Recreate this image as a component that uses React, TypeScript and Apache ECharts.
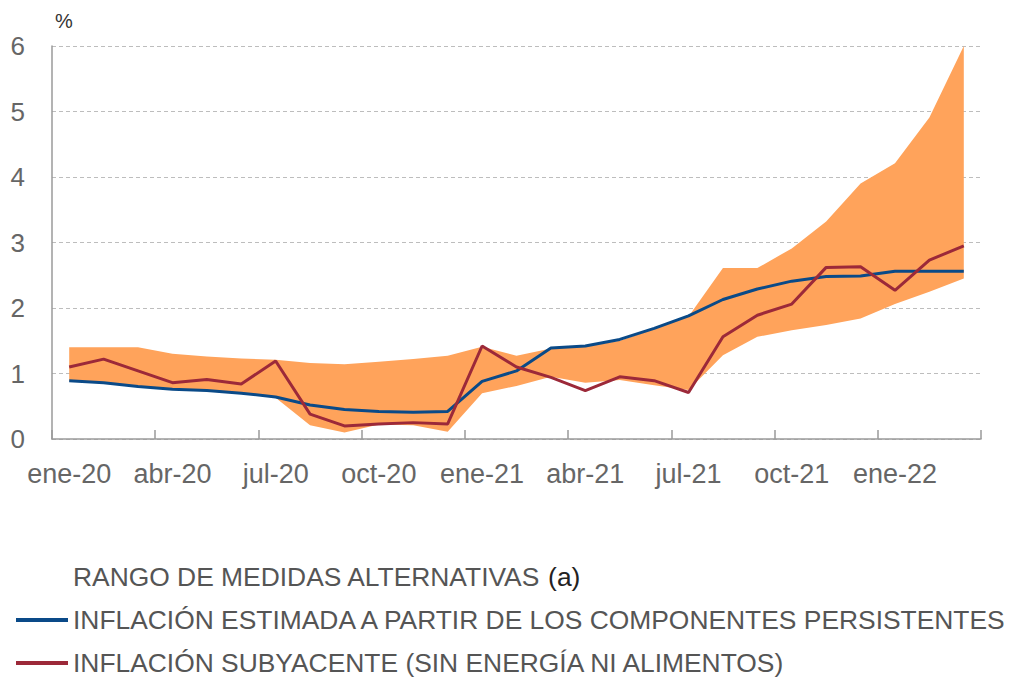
import React, { useEffect, useRef } from "react";
import * as echarts from "echarts";

const categories = [
  "ene-20", "feb-20", "mar-20", "abr-20", "may-20", "jun-20", "jul-20", "ago-20", "sep-20",
  "oct-20", "nov-20", "dic-20", "ene-21", "feb-21", "mar-21", "abr-21", "may-21", "jun-21",
  "jul-21", "ago-21", "sep-21", "oct-21", "nov-21", "dic-21", "ene-22", "feb-22", "mar-22",
];

const persistentes = [
  0.89, 0.86, 0.8, 0.76, 0.74, 0.7, 0.64, 0.52, 0.45, 0.42, 0.41, 0.42, 0.88, 1.04,
  1.39, 1.42, 1.52, 1.69, 1.88, 2.13, 2.29, 2.41, 2.48, 2.49, 2.56, 2.56, 2.56,
];

const subyacente = [
  1.1, 1.22, 1.04, 0.86, 0.91, 0.84, 1.19, 0.38, 0.2, 0.23, 0.25, 0.23, 1.42, 1.1,
  0.94, 0.74, 0.95, 0.89, 0.71, 1.56, 1.89, 2.06, 2.62, 2.63, 2.27, 2.73, 2.95,
];

const rangoMax = [
  1.4, 1.4, 1.4, 1.3, 1.26, 1.23, 1.21, 1.16, 1.14, 1.18, 1.22, 1.27, 1.41, 1.27,
  1.38, 1.41, 1.5, 1.68, 1.87, 2.61, 2.61, 2.91, 3.32, 3.9, 4.21, 4.91, 6.0,
];

const rangoMin = [
  0.88, 0.85, 0.79, 0.75, 0.73, 0.69, 0.63, 0.21, 0.1, 0.22, 0.21, 0.11, 0.7, 0.81,
  0.95, 0.86, 0.9, 0.82, 0.75, 1.28, 1.56, 1.66, 1.74, 1.84, 2.06, 2.25, 2.45,
];

const yTicks = [0, 1, 2, 3, 4, 5, 6];

const NAME_RANGO = "RANGO DE MEDIDAS ALTERNATIVAS (a)";
const NAME_PERS = "INFLACIÓN ESTIMADA A PARTIR DE LOS COMPONENTES PERSISTENTES";
const NAME_SUB = "INFLACIÓN SUBYACENTE (SIN ENERGÍA NI ALIMENTOS)";

const ORANGE = "#FFA35B";
const BLUE = "#0A4A88";
const RED = "#9C2939";
const FONT = "'Liberation Sans', Arial, sans-serif";

const legendText = { fontSize: 26.4, color: "#555555", fontFamily: FONT, lineHeight: 28 };

function makeLegend(name: string, top: number, color: string) {
  return {
    orient: "horizontal",
    left: 16,
    top,
    padding: 0,
    itemWidth: 52,
    itemHeight: 4,
    selectedMode: false,
    textStyle: {
      ...legendText,
      rich: { a: { fontSize: 26.4, color: "#222222", fontFamily: FONT } },
    },
    formatter: (n: string) =>
      n === NAME_RANGO ? "RANGO DE MEDIDAS ALTERNATIVAS {a|(a)}" : n,
    data: [{ name, icon: "rect", itemStyle: { color } }],
  };
}

export default function App() {
  const ref = useRef<HTMLDivElement>(null);

  useEffect(() => {
    document.body.style.margin = "0";
    if (!ref.current) return;
    const chart = echarts.init(ref.current, undefined, { renderer: "svg" });
    const diff = rangoMax.map((v, i) => +(v - rangoMin[i]).toFixed(3));
    chart.setOption({
      animation: false,
      backgroundColor: "#ffffff",
      textStyle: { fontFamily: FONT },
      grid: { left: 52, right: 28, top: 46, bottom: 238, containLabel: false },
      graphic: [
        {
          type: "text",
          left: 55,
          top: 11,
          style: { text: "%", fontSize: 20, fill: "#333333", fontFamily: FONT },
        },
      ],
      legend: [
        makeLegend(NAME_RANGO, 563, "rgba(0,0,0,0)"),
        makeLegend(NAME_PERS, 606, BLUE),
        makeLegend(NAME_SUB, 649, RED),
      ],
      xAxis: {
        type: "category",
        data: categories,
        boundaryGap: true,
        axisLine: { show: true, lineStyle: { color: "#9a9a9a", width: 1.5 } },
        axisTick: { show: true, inside: true, length: 9, interval: 2, lineStyle: { color: "#9a9a9a", width: 1.5 } },
        axisLabel: { interval: 2, fontSize: 27, color: "#666666", margin: 21, fontFamily: FONT },
        splitLine: { show: false },
      },
      yAxis: {
        type: "value",
        min: yTicks[0],
        max: yTicks[yTicks.length - 1],
        interval: 1,
        axisLine: { show: true, lineStyle: { color: "#9a9a9a", width: 1.5 } },
        axisTick: { show: false },
        axisLabel: { fontSize: 26, color: "#666666", margin: 27, fontFamily: FONT },
        splitLine: { show: true, lineStyle: { color: "#bdbdbd", type: [4, 3], width: 1 } },
      },
      series: [
        {
          name: "rango-base",
          type: "line",
          stack: "rango",
          data: rangoMin,
          symbol: "none",
          lineStyle: { width: 0, opacity: 0 },
          silent: true,
          z: 1,
        },
        {
          name: NAME_RANGO,
          type: "line",
          stack: "rango",
          data: diff,
          symbol: "none",
          color: ORANGE,
          lineStyle: { width: 0, opacity: 0 },
          areaStyle: { color: ORANGE, opacity: 1 },
          silent: true,
          z: 1,
        },
        {
          name: NAME_PERS,
          type: "line",
          data: persistentes,
          symbol: "none",
          color: BLUE,
          lineStyle: { color: BLUE, width: 3 },
          z: 3,
        },
        {
          name: NAME_SUB,
          type: "line",
          data: subyacente,
          symbol: "none",
          color: RED,
          lineStyle: { color: RED, width: 3 },
          z: 4,
        },
      ],
    });
    return () => chart.dispose();
  }, []);

  return <div ref={ref} style={{ width: 1009, height: 677 }} />;
}
